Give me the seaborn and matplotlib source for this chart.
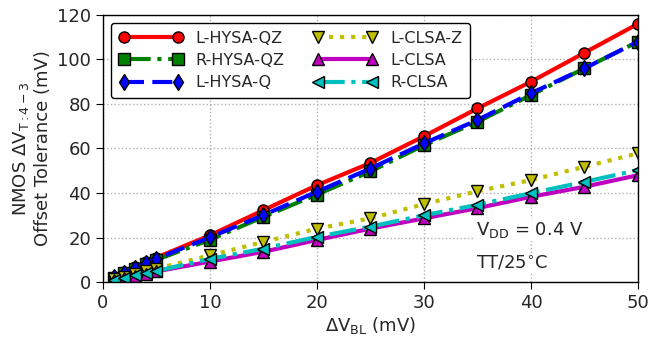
import matplotlib
matplotlib.use("Agg")
import matplotlib.pyplot as plt
import seaborn as sns
import pandas as pd

x_vals = [1, 2, 3, 4, 5, 10, 15, 20, 25, 30, 35, 40, 45, 50]
l_hysa_qz = [2.3, 4.5, 6.8, 9.0, 11.0, 21.0, 32.3, 43.5, 53.5, 65.5, 78.0, 90.0, 103.0, 116.0]
r_hysa_qz = [2.0, 4.0, 6.0, 8.0, 10.0, 19.0, 29.3, 39.3, 49.7, 61.5, 72.0, 84.0, 96.0, 108.0]
l_hysa_q = [2.1, 4.2, 6.3, 8.4, 10.5, 20.1, 30.1, 40.6, 51.0, 62.3, 72.8, 84.8, 96.0, 108.0]
l_clsa_z = [1.2, 2.4, 3.6, 4.8, 6.0, 12.0, 18.0, 24.0, 28.6, 35.0, 40.8, 45.8, 51.8, 57.8]
l_clsa = [1.0, 1.9, 2.9, 3.8, 4.8, 9.2, 13.6, 18.9, 24.0, 28.6, 33.2, 38.3, 42.8, 48.0]
r_clsa = [1.0, 2.0, 3.0, 4.0, 5.0, 10.4, 15.0, 20.3, 24.9, 30.0, 34.7, 39.9, 45.0, 50.3]

labels = ["L-HYSA-QZ", "R-HYSA-QZ", "L-HYSA-Q", "L-CLSA-Z", "L-CLSA", "R-CLSA"]
series = [l_hysa_qz, r_hysa_qz, l_hysa_q, l_clsa_z, l_clsa, r_clsa]
colors = ["#ff0000", "#008000", "#0000ff", "#bfbf00", "#bf00bf", "#00bfbf"]
markers = ["o", "s", "d", "v", "^", "<"]
styles = ["-", (0, (6.4, 1.6, 1, 1.6)), (0, (4.8, 2.0)), ":", "-", (0, (6.4, 1.6, 1, 1.6))]

sns.set_style("ticks")
plt.rcParams['font.family'] = ['DejaVu Sans']

fig = plt.figure(figsize=(6.49, 3.39), dpi=100)
ax = fig.add_axes([0.1587, 0.168, 0.8243, 0.788])

for i, (lab, vals) in enumerate(zip(labels, series)):
    df = pd.DataFrame({"x": x_vals, "y": vals})
    sns.lineplot(data=df, x="x", y="y", ax=ax, color=colors[i], marker=markers[i],
                 linestyle=styles[i], linewidth=3, markersize=8,
                 markeredgecolor="black", markeredgewidth=1.0, label=lab,
                 legend=False)

lines = ax.get_lines()
ax.legend(lines[:6], labels, ncol=2, loc="upper left",
          numpoints=2, handlelength=4.0, fontsize=11.5, frameon=True, framealpha=1,
          edgecolor="black", fancybox=True, borderaxespad=0.5, labelspacing=0.45,
          columnspacing=1.8, handletextpad=0.8, borderpad=0.5)

ax.set_xlim(0, 50)
ax.set_ylim(0, 120)
ax.set_xticks([0, 10, 20, 30, 40, 50])
ax.set_yticks([0, 20, 40, 60, 80, 100, 120])
ax.grid(True, linestyle=":", color="#b0b0b0", linewidth=1)
ax.tick_params(labelsize=13, direction="out", length=5, color="black")
for s in ax.spines.values():
    s.set_color("black")
    s.set_linewidth(1)

ax.set_xlabel(r"$\Delta$V$_{\mathrm{BL}}$ (mV)", fontsize=13, labelpad=2)
ax.set_ylabel("NMOS $\\Delta$V$_{\\mathrm{T:4-3}}$\nOffset Tolerance (mV)", fontsize=13, labelpad=4)

ax.text(34.9, 23.4, r"V$_{\mathrm{DD}}$ = 0.4 V", fontsize=13, va="center", ha="left",
        bbox=dict(facecolor="white", edgecolor="none", pad=1))
ax.text(34.9, 8.5, "TT/25$^{\\circ}$C", fontsize=13, va="center", ha="left",
        bbox=dict(facecolor="white", edgecolor="none", pad=1))

fig.savefig("out.png", dpi=100)
